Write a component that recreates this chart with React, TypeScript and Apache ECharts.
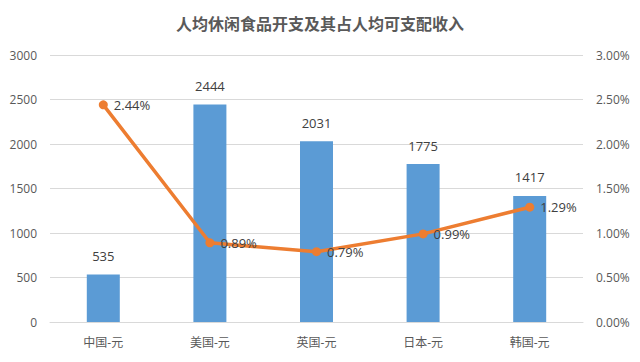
import React, { useEffect, useRef } from "react";
import * as echarts from "echarts";

const categories = ["中国-元", "美国-元", "英国-元", "日本-元", "韩国-元"];
const spending = [535, 2444, 2031, 1775, 1417];
const ratio = [2.44, 0.89, 0.79, 0.99, 1.29];
const titleText = "人均休闲食品开支及其占人均可支配收入";

export default function App() {
  const ref = useRef<HTMLDivElement>(null);
  useEffect(() => {
    const chart = echarts.init(ref.current!, null, { renderer: "svg" });
    const font = "'Open Sans', 'Noto Sans CJK SC', sans-serif";
    const cjk = "'Noto Sans CJK SC', 'Noto Sans', sans-serif";
    chart.setOption({
      animation: false,
      backgroundColor: "#ffffff",
      title: {
        text: titleText,
        left: "center",
        top: 10,
        textStyle: { fontSize: 16, fontWeight: "bold", color: "#595959", fontFamily: cjk },
      },
      grid: { left: 50, right: 57, top: 55, bottom: 40 },
      xAxis: {
        type: "category",
        data: categories,
        axisLine: { show: true, lineStyle: { color: "#d9d9d9" } },
        axisTick: { show: false },
        axisLabel: { color: "#595959", fontSize: 12, fontFamily: font, margin: 14 },
      },
      yAxis: [
        {
          type: "value",
          min: 0,
          max: 3000,
          interval: 500,
          axisLine: { show: false },
          axisTick: { show: false },
          splitLine: { lineStyle: { color: "#d9d9d9" } },
          axisLabel: {
            color: "#595959",
            fontSize: 12,
            fontFamily: font,
            margin: 13,
            formatter: (v: number) => String(v),
          },
        },
        {
          type: "value",
          min: 0,
          max: 3,
          interval: 0.5,
          axisLine: { show: false },
          axisTick: { show: false },
          splitLine: { show: false },
          axisLabel: {
            color: "#595959",
            fontSize: 12,
            fontFamily: font,
            margin: 13,
            formatter: (v: number) => v.toFixed(2) + "%",
          },
        },
      ],
      series: [
        {
          type: "bar",
          data: spending,
          barWidth: 33,
          itemStyle: { color: "#5b9bd5" },
          label: {
            show: true,
            position: "top",
            distance: 12,
            color: "#404040",
            fontSize: 13,
            fontFamily: font,
          },
        },
        {
          type: "line",
          yAxisIndex: 1,
          data: ratio,
          symbol: "circle",
          symbolSize: 9,
          lineStyle: { color: "#ed7d31", width: 3.5 },
          itemStyle: { color: "#ed7d31" },
          label: {
            show: true,
            position: "right",
            distance: 6,
            color: "#404040",
            fontSize: 13,
            fontFamily: font,
            formatter: (p: any) => p.value.toFixed(2) + "%",
          },
        },
      ],
    });
    return () => chart.dispose();
  }, []);
  return <div ref={ref} style={{ width: 640, height: 362, position: "absolute", left: 0, top: 0 }} />;
}
